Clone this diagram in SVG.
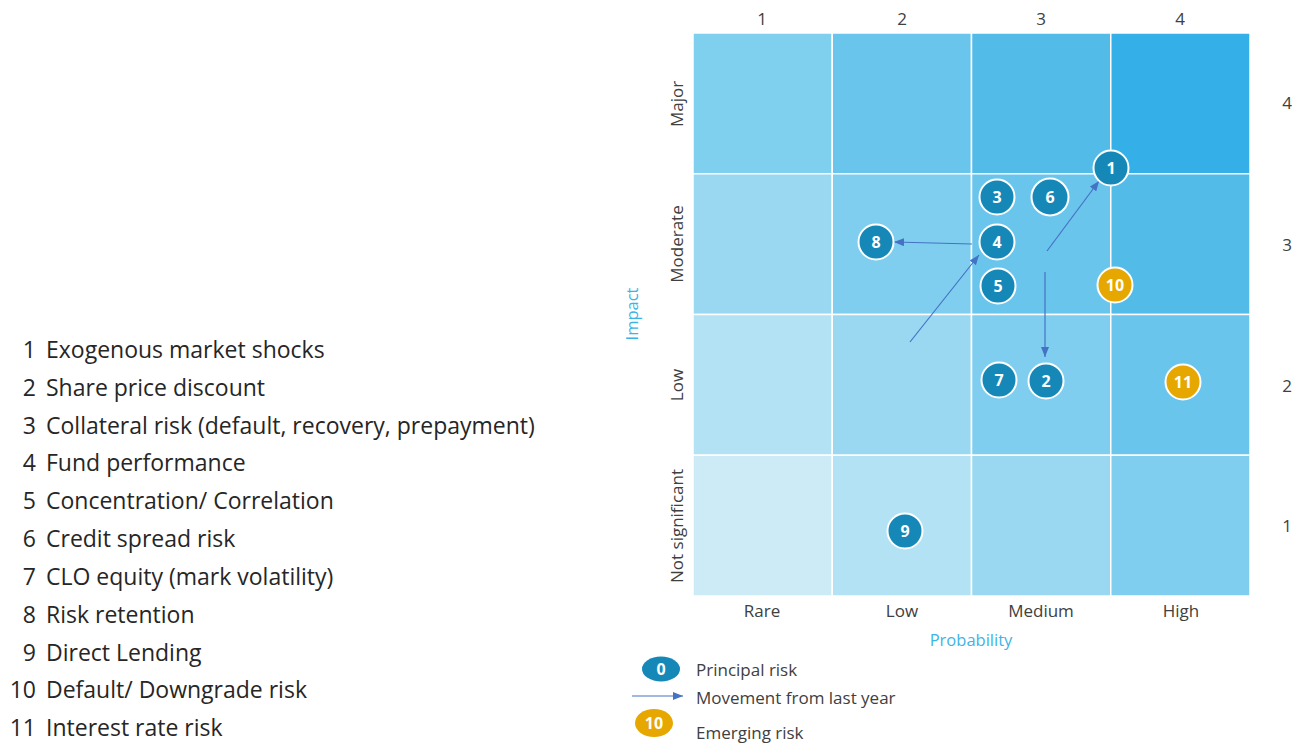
<svg xmlns="http://www.w3.org/2000/svg" width="1303" height="744" viewBox="0 0 1303 744">
<defs>
<style>
.lbl{font-family:"Open Sans","Liberation Sans",sans-serif;fill:#404040;font-size:17px}
.list{font-family:"Open Sans","Liberation Sans",sans-serif;fill:#262626;font-size:23px}
.axis{font-family:"Open Sans","Liberation Sans",sans-serif;fill:#3DB4E6;font-size:16.5px}
.grid rect{stroke:#FFFFFF;stroke-width:1.5}
.p circle{fill:#1588B8;stroke:#FFFFFF;stroke-width:2}
.e circle{fill:#E6A800;stroke:#FFFFFF;stroke-width:2}
.n{font-family:"Open Sans","Liberation Sans",sans-serif;font-weight:bold;fill:#FFFFFF;font-size:16px;text-anchor:middle}
.arr{stroke:#4472C4;stroke-width:1.2;fill:none;marker-end:url(#ah)}
</style>
<marker id="ah" viewBox="0 0 10 8" refX="10" refY="4" markerWidth="10" markerHeight="8" markerUnits="userSpaceOnUse" orient="auto">
<path d="M0,0 L10,4 L0,8 Z" fill="#4472C4"/>
</marker>
</defs>
<rect width="1303" height="744" fill="#FFFFFF"/>

<g id="grid" class="grid">
<rect x="693" y="33" width="139.25" height="140.75" fill="#7FCFEF"/>
<rect x="832.25" y="33" width="139.25" height="140.75" fill="#6AC5EC"/>
<rect x="971.5" y="33" width="139.25" height="140.75" fill="#53BBE8"/>
<rect x="1110.75" y="33" width="139.25" height="140.75" fill="#35AFE7"/>
<rect x="693" y="173.75" width="139.25" height="140.75" fill="#9AD8F2"/>
<rect x="832.25" y="173.75" width="139.25" height="140.75" fill="#80CEEF"/>
<rect x="971.5" y="173.75" width="139.25" height="140.75" fill="#6AC5EC"/>
<rect x="1110.75" y="173.75" width="139.25" height="140.75" fill="#53BBE8"/>
<rect x="693" y="314.5" width="139.25" height="140.75" fill="#B3E2F5"/>
<rect x="832.25" y="314.5" width="139.25" height="140.75" fill="#9AD8F2"/>
<rect x="971.5" y="314.5" width="139.25" height="140.75" fill="#80CEEF"/>
<rect x="1110.75" y="314.5" width="139.25" height="140.75" fill="#6AC5EC"/>
<rect x="693" y="455.25" width="139.25" height="140.75" fill="#CCEBF7"/>
<rect x="832.25" y="455.25" width="139.25" height="140.75" fill="#B3E2F5"/>
<rect x="971.5" y="455.25" width="139.25" height="140.75" fill="#9AD8F2"/>
<rect x="1110.75" y="455.25" width="139.25" height="140.75" fill="#80CEEF"/>
</g>

<g id="axis-labels">
<text class="lbl" x="762" y="25" text-anchor="middle">1</text>
<text class="lbl" x="902" y="25" text-anchor="middle">2</text>
<text class="lbl" x="1041" y="25" text-anchor="middle">3</text>
<text class="lbl" x="1180" y="25" text-anchor="middle">4</text>
<text class="lbl" x="1287" y="109" text-anchor="middle">4</text>
<text class="lbl" x="1287" y="251" text-anchor="middle">3</text>
<text class="lbl" x="1287" y="392" text-anchor="middle">2</text>
<text class="lbl" x="1287" y="532" text-anchor="middle">1</text>
<text class="lbl" x="762" y="617" text-anchor="middle">Rare</text>
<text class="lbl" x="902" y="617" text-anchor="middle">Low</text>
<text class="lbl" x="1041" y="617" text-anchor="middle">Medium</text>
<text class="lbl" x="1181" y="617" text-anchor="middle">High</text>
<text class="lbl" text-anchor="middle" transform="translate(683,104) rotate(-90)">Major</text>
<text class="lbl" text-anchor="middle" transform="translate(683,244) rotate(-90)">Moderate</text>
<text class="lbl" text-anchor="middle" transform="translate(683,385) rotate(-90)">Low</text>
<text class="lbl" text-anchor="middle" transform="translate(683,526) rotate(-90)">Not significant</text>
<text class="axis" x="971" y="646" text-anchor="middle">Probability</text>
<text class="axis" text-anchor="middle" transform="translate(638,314) rotate(-90)">Impact</text>
</g>

<g id="connectors">
<line class="arr" x1="1047" y1="251" x2="1099" y2="181"/>
<line class="arr" x1="1045" y1="272" x2="1045" y2="357"/>
<line class="arr" x1="910" y1="342" x2="979" y2="255"/>
<line class="arr" x1="972" y1="244" x2="894" y2="242"/>
</g>

<g id="risk-1" class="p"><circle cx="1111" cy="168" r="17.5"/><text class="n" x="1111" y="174">1</text></g>
<g id="risk-3" class="p"><circle cx="997" cy="197" r="17.5"/><text class="n" x="997" y="203">3</text></g>
<g id="risk-6" class="p"><circle cx="1050" cy="197" r="18.5"/><text class="n" x="1050" y="203">6</text></g>
<g id="risk-8" class="p"><circle cx="876" cy="242" r="17.5"/><text class="n" x="876" y="248">8</text></g>
<g id="risk-4" class="p"><circle cx="997" cy="242" r="17.5"/><text class="n" x="997" y="248">4</text></g>
<g id="risk-5" class="p"><circle cx="998" cy="286" r="17.5"/><text class="n" x="998" y="292">5</text></g>
<g id="risk-10" class="e"><circle cx="1115" cy="285" r="17.5"/><text class="n" x="1115" y="291">10</text></g>
<g id="risk-7" class="p"><circle cx="999" cy="380" r="17.5"/><text class="n" x="999" y="386">7</text></g>
<g id="risk-2" class="p"><circle cx="1046" cy="381" r="17.5"/><text class="n" x="1046" y="387">2</text></g>
<g id="risk-11" class="e"><circle cx="1183" cy="382" r="17.5"/><text class="n" x="1183" y="388">11</text></g>
<g id="risk-9" class="p"><circle cx="905" cy="531" r="17.5"/><text class="n" x="905" y="537">9</text></g>

<g id="legend">
<ellipse cx="661" cy="669" rx="19" ry="12.5" fill="#1588B8"/>
<text class="n" x="661" y="675">0</text>
<line x1="632" y1="696" x2="683" y2="696" stroke="#4472C4" stroke-width="1.2" marker-end="url(#ah)"/>
<ellipse cx="654" cy="723" rx="19" ry="14" fill="#E6A800"/>
<text class="n" x="654" y="729">10</text>
<text class="lbl" x="696" y="676">Principal risk</text>
<text class="lbl" x="696" y="704">Movement from last year</text>
<text class="lbl" x="696" y="739">Emerging risk</text>
</g>

<g id="risk-list" class="list">
<text x="36" y="358" text-anchor="end">1</text><text x="46" y="358">Exogenous market shocks</text>
<text x="36" y="396" text-anchor="end">2</text><text x="46" y="396">Share price discount</text>
<text x="36" y="434" text-anchor="end">3</text><text x="46" y="434">Collateral risk (default, recovery, prepayment)</text>
<text x="36" y="471" text-anchor="end">4</text><text x="46" y="471">Fund performance</text>
<text x="36" y="509" text-anchor="end">5</text><text x="46" y="509">Concentration/ Correlation</text>
<text x="36" y="547" text-anchor="end">6</text><text x="46" y="547">Credit spread risk</text>
<text x="36" y="585" text-anchor="end">7</text><text x="46" y="585">CLO equity (mark volatility)</text>
<text x="36" y="623" text-anchor="end">8</text><text x="46" y="623">Risk retention</text>
<text x="36" y="661" text-anchor="end">9</text><text x="46" y="661">Direct Lending</text>
<text x="36" y="698" text-anchor="end">10</text><text x="46" y="698">Default/ Downgrade risk</text>
<text x="36" y="736" text-anchor="end">11</text><text x="46" y="736">Interest rate risk</text>
</g>
</svg>
